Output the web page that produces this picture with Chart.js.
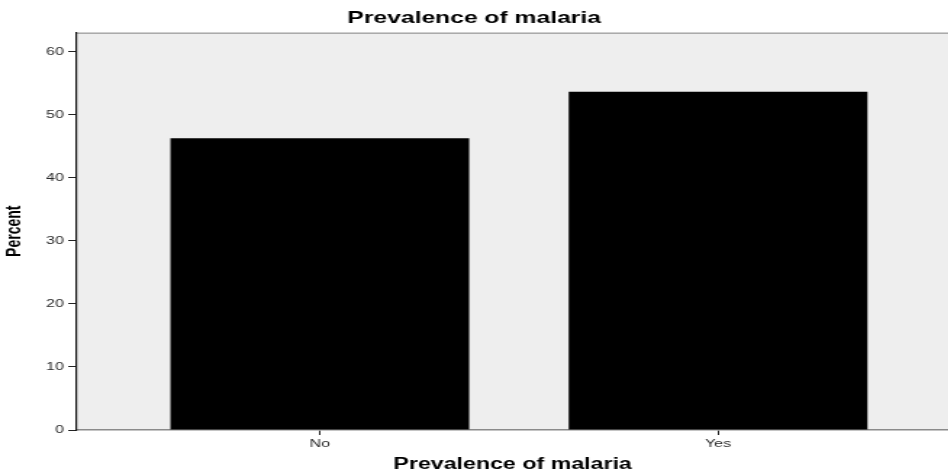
<!DOCTYPE html>
<html>
<head>
<meta charset="utf-8">
<script src="https://cdn.jsdelivr.net/npm/chart.js@4"></script>
<style>
  html, body { margin: 0; padding: 0; background: #fff; overflow: hidden; }
  /* the original picture is stretched sideways, so the whole chart is too */
  #wrap { width: 654px; height: 475px; transform: scaleX(1.45); transform-origin: 0 0; }
</style>
</head>
<body>
<div id="wrap"><canvas id="chart" width="654" height="475"></canvas></div>
<script>
const categories = ['No', 'Yes'];
const percents = [46.3, 53.7];
const yTicks = [0, 10, 20, 30, 40, 50, 60];

Chart.defaults.font.family = '"Liberation Sans", Arial, sans-serif';

const ctx = document.getElementById('chart').getContext('2d');

// y title is a condensed bold face in the original; use Liberation Sans Narrow if it is there
function hasFont(name) {
  ctx.font = 'bold 20px monospace';
  const a = ctx.measureText('Percent').width;
  ctx.font = 'bold 20px "' + name + '", monospace';
  return ctx.measureText('Percent').width !== a;
}
const yTitleFont = hasFont('Liberation Sans Narrow')
  ? { family: '"Liberation Sans Narrow", "Liberation Sans", sans-serif', size: 17, weight: 'bold' }
  : { size: 14, weight: 'bold' };

// grey plot background + thin top border
const plotBg = {
  id: 'plotBg',
  beforeDraw(chart) {
    const { ctx, chartArea: a } = chart;
    ctx.save();
    ctx.fillStyle = '#eeeeee';
    ctx.fillRect(a.left, a.top, a.right - a.left, a.bottom - a.top);
    ctx.strokeStyle = '#aaaaaa';
    ctx.lineWidth = 1.5;
    ctx.beginPath();
    ctx.moveTo(a.left, a.top + 0.75);
    ctx.lineTo(a.right, a.top + 0.75);
    ctx.stroke();
    ctx.restore();
  }
};

const chart = new Chart(ctx, {
  type: 'bar',
  data: {
    datasets: [{
      label: 'Percent',
      data: categories.map((c, i) => ({ x: i, y: percents[i] })),
      backgroundColor: '#000',
      borderWidth: 0,
      barPercentage: 0.75,
      categoryPercentage: 1
    }]
  },
  options: {
    responsive: false,
    animation: false,
    devicePixelRatio: 1,
    layout: { padding: 0 },
    plugins: {
      legend: { display: false },
      tooltip: { enabled: false },
      title: {
        display: true,
        text: 'Prevalence of malaria',
        color: '#000',
        font: { size: 17, weight: 'bold' },
        padding: { top: 8, bottom: 4 }
      }
    },
    scales: {
      x: {
        type: 'linear',
        offset: false,
        min: -0.61,
        max: 1.578,
        afterFit: (s) => { s.height = 45; },
        afterBuildTicks: (s) => { s.ticks = categories.map((c, i) => ({ value: i })); },
        ticks: {
          callback: (v) => categories[v],
          color: '#2a2a2a',
          font: { size: 11 },
          padding: 2,
          maxRotation: 0
        },
        grid: { offset: false, drawOnChartArea: false, drawTicks: true, tickLength: 5, color: '#222' },
        border: { color: '#8a8a8a', width: 1.5 },
        title: {
          display: true,
          text: 'Prevalence of malaria',
          color: '#000',
          font: { size: 16, weight: 'bold' },
          padding: { top: 0, bottom: 0.5 }
        }
      },
      y: {
        min: 0,
        max: 63.1,
        afterFit: (s) => { s.width = 53; },
        afterBuildTicks: (s) => { s.ticks = yTicks.map((v) => ({ value: v })); },
        ticks: { color: '#2a2a2a', font: { size: 11 }, padding: 3 },
        grid: { drawOnChartArea: false, drawTicks: true, tickLength: 6, color: '#222' },
        border: { color: '#111', width: 1.2 },
        title: {
          display: true,
          text: 'Percent',
          color: '#000',
          font: yTitleFont,
          padding: { top: 2, bottom: 0 }
        }
      }
    }
  },
  plugins: [plotBg]
});
</script>
</body>
</html>
